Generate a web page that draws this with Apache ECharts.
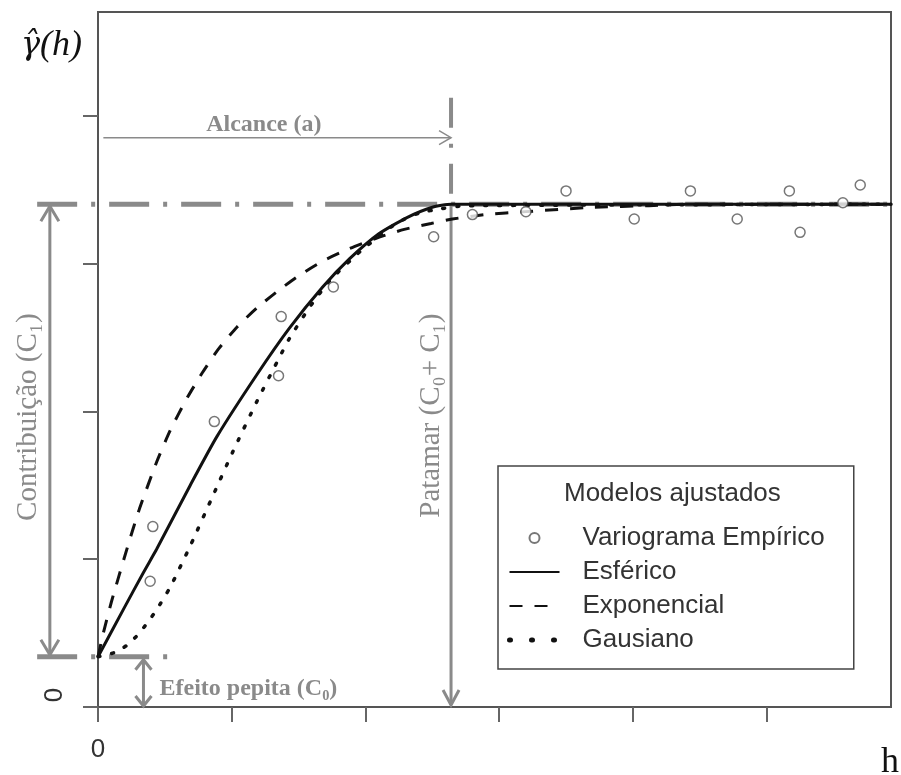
<!DOCTYPE html>
<html>
<head>
<meta charset="utf-8">
<script src="https://cdn.jsdelivr.net/npm/echarts@6/dist/echarts.min.js"></script>
<style>
  html, body { margin: 0; background: #fff; }
  #chart { width: 901px; height: 775px; }
</style>
</head>
<body>
<div id="chart"></div>
<script>
// empirical variogram points (h, gamma)
const empH = [0.39, 0.41, 0.87, 1.35, 1.37, 1.76, 2.51, 2.80, 3.20, 3.50, 4.01, 4.43, 4.78, 5.17, 5.25, 5.57, 5.70];
const empGamma = [0.85, 1.22, 1.93, 2.24, 2.64, 2.84, 3.18, 3.33, 3.35, 3.49, 3.30, 3.49, 3.30, 3.49, 3.21, 3.41, 3.53];

// fitted models
const sphH = [0, 0.19, 0.34, 0.44, 0.69, 0.89, 1.19, 1.43, 1.68, 1.88, 2.10, 2.31, 2.50, 2.64, 5.93];
const sphGamma = [0.34, 0.66, 0.91, 1.07, 1.50, 1.83, 2.25, 2.56, 2.84, 3.03, 3.20, 3.31, 3.38, 3.40, 3.40];

const expH = [0, 0.04, 0.10, 0.22, 0.31, 0.44, 0.54, 0.66, 0.78, 0.90, 1.04, 1.19, 1.34, 1.49, 1.69, 1.88, 2.08, 2.29, 2.49, 2.65, 2.90, 3.20, 3.71, 4.12, 4.42, 5.93];
const expGamma = [0.34, 0.50, 0.71, 1.08, 1.34, 1.66, 1.87, 2.08, 2.26, 2.42, 2.57, 2.70, 2.81, 2.91, 3.02, 3.10, 3.17, 3.23, 3.27, 3.30, 3.33, 3.35, 3.38, 3.39, 3.40, 3.40];

const gauH = [0, 0.13, 0.22, 0.30, 0.37, 0.44, 0.54, 0.60, 0.69, 0.86, 1.01, 1.19, 1.36, 1.43, 1.58, 1.73, 1.96, 2.23, 2.40, 2.57, 2.74, 5.93];
const gauGamma = [0.34, 0.37, 0.42, 0.49, 0.57, 0.66, 0.81, 0.92, 1.09, 1.43, 1.73, 2.07, 2.37, 2.49, 2.70, 2.88, 3.08, 3.27, 3.34, 3.37, 3.39, 3.40];

// variogram parameters
const nugget = 0.34;   // C0
const sill = 3.40;     // C0 + C1
const range = 2.64;    // a

// axis ticks and labels
const xTicks = [0, 1, 2, 3, 4, 5];
const yTicks = [0, 1, 2, 3, 4];
const xTickLabels = ['0'];
const yTickLabels = ['0'];

const pairs = (xs, ys) => xs.map((x, i) => [x, ys[i]]);

const GRAY = '#8a8a8a';
const chart = echarts.init(document.getElementById('chart'));

const hideSymbol = { opacity: 0 };

chart.setOption({
  animation: false,
  grid: {
    left: 98, right: 10, top: 12, bottom: 68,
    outerBoundsMode: 'none',
    show: true, borderColor: '#555', borderWidth: 2
  },
  title: {
    text: 'Modelos ajustados',
    left: 564, top: 481, padding: 0,
    textStyle: { fontFamily: 'Liberation Sans', fontSize: 26, fontWeight: 'normal', color: '#333' }
  },
  legend: {
    orient: 'vertical',
    left: 498, top: 466,
    padding: [59, 29, 16, 9],
    borderColor: '#444', borderWidth: 1.5,
    itemWidth: 50, itemHeight: 10, itemGap: 8,
    textStyle: { fontFamily: 'Liberation Sans', fontSize: 26, lineHeight: 24, color: '#333', padding: [0, 0, 0, 18] },
    data: [
      { name: 'Variograma Empírico' },
      { name: 'Esférico', itemStyle: hideSymbol },
      { name: 'Exponencial', itemStyle: hideSymbol },
      { name: 'Gausiano', itemStyle: hideSymbol, lineStyle: { width: 5, type: [1, 21], cap: 'round' } }
    ]
  },
  xAxis: {
    type: 'value', min: 0, max: 5.93,
    name: 'h', nameLocation: 'end', nameGap: -10,
    nameTextStyle: { fontFamily: 'Liberation Serif', fontSize: 36, color: '#111', align: 'left', verticalAlign: 'top', padding: [38, 0, 0, 0] },
    axisLine: { show: false },
    axisTick: { show: true, length: 15, customValues: xTicks, lineStyle: { color: '#666', width: 2 } },
    axisLabel: { customValues: [0], margin: 30, fontFamily: 'Liberation Sans', fontSize: 26, color: '#333',
      formatter: (v) => xTickLabels[xTicks.indexOf(v)] || '' },
    splitLine: { show: false }
  },
  yAxis: {
    type: 'value', min: 0, max: 4.7,
    name: '{g|γ̂}(h)', nameLocation: 'end', nameGap: -34,
    nameTextStyle: {
      fontFamily: 'Liberation Serif', fontStyle: 'italic', fontSize: 36, color: '#111',
      align: 'right', verticalAlign: 'middle', padding: [0, 16, 0, 0],
      rich: { g: { fontFamily: 'DejaVu Serif', fontStyle: 'italic', fontSize: 32, color: '#111' } }
    },
    axisLine: { show: false },
    axisTick: { show: true, length: 15, customValues: yTicks, lineStyle: { color: '#666', width: 2 } },
    axisLabel: { customValues: [0], rotate: 90, margin: 30, padding: [0, 0, 0, 24], fontFamily: 'Liberation Sans', fontSize: 26, color: '#333',
      formatter: (v) => yTickLabels[yTicks.indexOf(v)] || '' },
    splitLine: { show: false }
  },
  series: [
    {
      name: 'Variograma Empírico', type: 'scatter', z: 4,
      data: pairs(empH, empGamma),
      symbol: 'circle', symbolSize: 10,
      itemStyle: { color: '#fff', borderColor: '#555', borderWidth: 1.5 }
    },
    {
      name: 'Esférico', type: 'line', z: 3, smooth: 0.2, symbol: 'none',
      data: pairs(sphH, sphGamma),
      itemStyle: { color: '#111' },
      lineStyle: { color: '#111', width: 3 }
    },
    {
      name: 'Exponencial', type: 'line', z: 3, smooth: 0.2, symbol: 'none',
      data: pairs(expH, expGamma),
      itemStyle: { color: '#111' },
      lineStyle: { color: '#111', width: 3, type: [13, 12] }
    },
    {
      name: 'Gausiano', type: 'line', z: 3, smooth: 0.2, symbol: 'none',
      data: pairs(gauH, gauGamma),
      itemStyle: { color: '#111' },
      lineStyle: { color: '#111', width: 3.5, type: [2, 12], cap: 'round' }
    }
  ]
});

// annotations placed through the chart's own scales
const px = (x, y) => chart.convertToPixel({ gridIndex: 0 }, [x, y]);

const line = (a, b, width, dash) => ({
  type: 'line', z: 1, silent: true,
  shape: { x1: a[0], y1: a[1], x2: b[0], y2: b[1] },
  style: { stroke: GRAY, lineWidth: width, lineDash: dash || null }
});

// open V arrow head at tip, pointing in direction (dx, dy)
const head = (tip, dx, dy, len, half, width) => {
  const nx = -dy, ny = dx;
  return {
    type: 'polyline', z: 1, silent: true,
    shape: { points: [
      [tip[0] - dx * len + nx * half, tip[1] - dy * len + ny * half],
      tip,
      [tip[0] - dx * len - nx * half, tip[1] - dy * len - ny * half]
    ] },
    style: { stroke: GRAY, lineWidth: width, fill: null }
  };
};

const text = (pos, str, font, extra) => Object.assign({
  type: 'text', z: 5, silent: true, x: pos[0], y: pos[1],
  style: { text: str, font: font, fill: GRAY, align: (extra && extra.align) || 'center', verticalAlign: 'middle' }
}, extra && extra.rotation ? { rotation: extra.rotation } : {});

const leftOut = -0.455;
const contribX = -0.36;
const pepitaX = 0.34;
const alcanceY = 3.85;
const rangeTop = 4.12;

const sillL = px(leftOut, sill), sillR = px(5.93, sill);
const nugL = px(leftOut, nugget), nugR = px(0.56, nugget);
const cTop = px(contribX, sill), cBot = px(contribX, nugget);
const pTop = px(pepitaX, nugget), pBot = px(pepitaX, 0);
const rTop = px(range, rangeTop), rSill = px(range, sill), rBot = px(range, 0);
const aL = px(0.04, alcanceY), aR = px(range, alcanceY);
const dashDot = [40, 14, 4, 14];

chart.setOption({
  graphic: [
    line(sillL, sillR, 5, dashDot),
    line(nugL, nugR, 5, dashDot),
    line(rTop, rSill, 4, [30, 16, 4, 16]),
    line(rSill, [rBot[0], rBot[1] - 2], 3),
    head([rBot[0], rBot[1] - 2], 0, 1, 15, 8, 3),
    line([cTop[0], cTop[1] + 2], [cBot[0], cBot[1] - 2], 3),
    head([cTop[0], cTop[1] + 2], 0, -1, 15, 9, 3),
    head([cBot[0], cBot[1] - 2], 0, 1, 15, 9, 3),
    line([pTop[0], pTop[1] + 3], [pBot[0], pBot[1] - 1], 3),
    head([pTop[0], pTop[1] + 3], 0, -1, 10, 8, 3),
    head([pBot[0], pBot[1] - 1], 0, 1, 10, 8, 3),
    line(aL, aR, 1.5),
    head(aR, 1, 0, 12, 7, 1.5),
    text(px(1.24, 3.94), 'Alcance (a)', 'bold 24px "Liberation Serif"'),
    text(px(-0.52, 1.96), 'Contribuição (C₁)', '29px "Liberation Serif"', { rotation: Math.PI / 2 }),
    text(px(2.49, 1.97), 'Patamar (C₀+ C₁)', '29px "Liberation Serif"', { rotation: Math.PI / 2 }),
    text(px(0.46, 0.12), 'Efeito pepita (C₀)', 'bold 24px "Liberation Serif"', { align: 'left' })
  ]
});
</script>
</body>
</html>
